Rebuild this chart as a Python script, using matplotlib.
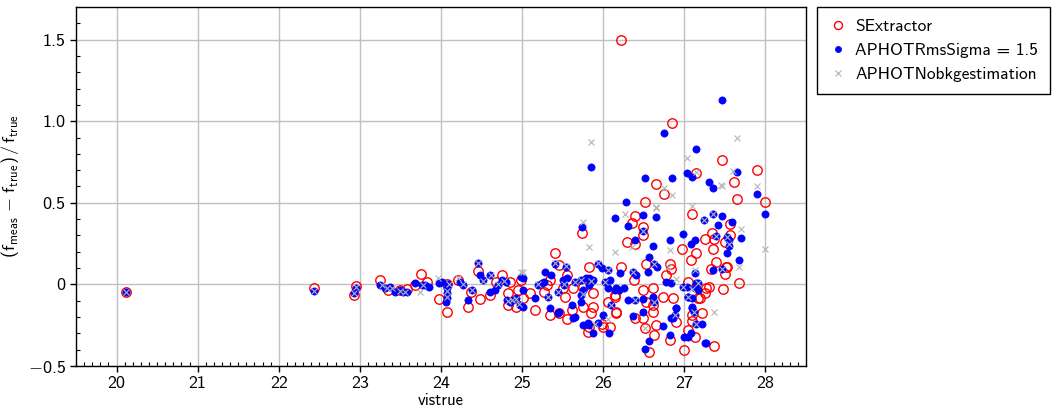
import matplotlib
matplotlib.use("Agg")
import matplotlib.pyplot as plt
from matplotlib.ticker import MultipleLocator, FixedLocator

plt.rcParams["font.family"] = ["cmss10", "DejaVu Sans"]
plt.rcParams["mathtext.fontset"] = "custom"
plt.rcParams["mathtext.rm"] = "cmss10"
plt.rcParams["mathtext.sf"] = "cmss10"
plt.rcParams["mathtext.it"] = "cmss10"
plt.rcParams["axes.unicode_minus"] = False

# SExtractor (red open circles)
sex_x = [20.12, 22.43, 22.93, 22.95,
         23.25, 23.35, 23.49, 23.58, 23.68, 23.75, 23.83, 23.97, 24.08, 24.08, 24.21, 24.37, 24.33,
         24.48, 24.45, 24.61, 24.75, 24.68, 24.83, 24.85, 24.95, 24.83, 24.93, 24.99,
         25.74, 25.41, 25.46, 25.55, 25.31, 25.27, 25.16, 25.34, 25.46, 25.53, 25.61, 25.63, 25.75,
         25.83, 25.87, 25.87, 25.85, 25.81, 25.98, 26.08, 26.06, 26.16, 26.14, 25.01, 25.10, 25.55,
         25.34, 25.50, 25.75, 25.83, 26.00,
         26.51, 26.39, 26.35, 26.49, 26.49, 26.29, 26.39, 27.10, 27.25, 26.97, 27.14, 27.08, 26.22,
         26.53, 26.82, 26.78, 26.38, 26.14, 26.49, 26.61, 26.74, 26.86, 27.05, 27.27, 27.17, 26.16,
         26.39, 26.49, 26.61, 26.53, 26.61, 26.65, 26.90, 26.51, 26.63, 26.82, 26.57, 27.10, 27.00,
         27.61, 27.65, 27.99, 27.56, 27.34, 27.37, 27.50, 27.56, 27.35, 27.39, 27.53, 27.50, 27.67,
         27.48, 27.30, 27.26, 27.22, 27.36,
         26.22, 26.85, 27.46, 27.90, 27.15, 26.65, 26.75,
         27.33, 27.51, 26.84, 27.19, 27.10, 27.05, 27.13]
sex_y = [-0.045, -0.025, -0.063, -0.012,
         0.026, -0.035, -0.035, -0.030, -0.005, 0.065, 0.016, -0.090, 0.005, -0.170, 0.026, -0.045, -0.137,
         -0.092, 0.080, -0.065, 0.057, 0.016, -0.055, 0.016, -0.035, -0.127, -0.137, 0.026,
         0.312, 0.190, 0.118, 0.057, -0.004, -0.045, -0.157, -0.188, -0.178, -0.076, -0.157, -0.025, -0.137,
         0.108, -0.055, -0.137, -0.178, -0.290, -0.240, -0.260, -0.106, -0.178, -0.076, -0.086, -0.055, -0.210,
         0.026, -0.025, -0.015, -0.260, -0.260,
         0.505, 0.418, 0.377, 0.352, 0.301, 0.260, 0.250, 0.434, 0.280, 0.220, 0.193, 0.148, 0.108,
         0.128, 0.128, 0.057, 0.026, -0.065, -0.035, -0.025, -0.076, -0.086, 0.016, -0.025, -0.086, -0.168,
         -0.208, -0.208, -0.168, -0.106, -0.127, -0.249, -0.229, -0.270, -0.310, -0.341, -0.413, -0.188, -0.402,
         0.628, 0.526, 0.505, 0.373, 0.312, 0.281, 0.260, 0.300, 0.214, 0.138, 0.104, 0.063, 0.006,
         -0.030, -0.018, -0.050, -0.178, -0.378,
         1.495, 0.990, 0.760, 0.704, 0.685, 0.618, 0.557,
         0.092, 0.108, 0.092, -0.086, -0.222, -0.280, -0.325]

# APHOT RmsSigma = 1.5 (blue dots)
rms_x = [20.12, 22.43, 22.93, 22.95,
         23.25, 23.31, 23.37, 23.43, 23.49, 23.53, 23.58, 23.68, 23.76, 23.80, 23.85, 23.97, 24.01,
         24.08, 24.08, 24.08, 24.06, 24.09, 24.23, 24.27, 24.38, 24.33, 24.45, 24.48, 24.52, 24.61,
         24.60, 24.66, 24.70, 24.75, 24.80, 24.81, 24.85, 24.89, 24.93, 24.97, 25.01, 24.99,
         25.74, 26.14, 25.40, 25.54, 25.28, 25.36, 25.01, 25.20, 25.24, 25.16, 25.32, 25.44, 25.50,
         25.52, 25.65, 25.72, 25.79, 25.85, 25.73, 25.73, 25.63, 25.34, 25.44, 25.61, 25.75, 25.83,
         25.93, 25.87, 26.07, 25.94, 25.98, 26.06, 26.02, 26.06, 26.14, 26.00, 26.10, 25.01,
         25.55, 25.82, 25.87, 25.75, 25.83, 25.46, 25.65, 25.81, 25.27, 26.08,
         26.28, 26.49, 26.65, 26.30, 26.49, 26.39, 26.61, 26.82, 26.98, 27.08, 27.13, 26.57, 26.62,
         26.66, 26.21, 26.37, 26.41, 26.55, 26.78, 26.84, 26.98, 27.03, 27.13, 27.15, 26.16, 26.20,
         26.26, 26.31, 26.39, 26.49, 26.61, 26.63, 27.05, 27.10, 27.12, 26.90, 26.88, 26.84, 26.37,
         26.49, 26.74, 26.82, 26.57, 26.51, 27.00, 27.05, 27.15, 27.27,
         27.31, 27.35, 27.90, 27.99, 27.35, 27.47, 27.59, 27.24, 27.41, 27.39, 27.52, 27.55, 27.55,
         27.70, 27.53, 27.67, 27.35, 27.47, 27.22, 27.26,
         27.46, 26.75, 27.14, 25.85, 26.51, 26.85, 27.03, 27.10, 27.65,
         27.13, 27.17, 27.17, 27.05, 27.09, 27.10, 26.90, 26.86, 27.08]
rms_y = [-0.045, -0.040, -0.050, -0.020,
         -0.004, -0.025, -0.015, -0.045, -0.035, -0.045, -0.045, 0.006, -0.004, -0.004, -0.015, 0.006, 0.016,
         -0.025, -0.055, -0.086, -0.107, 0.000, 0.016, -0.004, -0.035, -0.096, 0.132, 0.057, 0.026, 0.057,
         -0.045, -0.035, -0.004, 0.026, 0.016, -0.096, -0.106, -0.096, -0.086, -0.127, -0.035, 0.047,
         0.352, 0.404, 0.128, 0.108, 0.077, 0.057, 0.037, -0.004, 0.006, -0.086, -0.076, -0.045, 0.026,
         -0.004, 0.016, 0.026, 0.037, 0.016, -0.065, -0.106, -0.208, -0.147, -0.178, -0.127, -0.249, -0.249,
         -0.239, -0.300, -0.300, 0.128, 0.098, 0.087, 0.016, -0.025, -0.035, -0.188, -0.127, -0.137,
         0.037, 0.037, 0.026, -0.035, -0.004, -0.168, -0.198, -0.239, 0.016, 0.026,
         0.505, 0.424, 0.414, 0.357, 0.326, 0.275, 0.234, 0.275, 0.306, 0.250, 0.270, 0.165, 0.128,
         0.108, 0.071, 0.077, 0.057, 0.077, 0.016, 0.006, -0.015, -0.015, -0.025, 0.006, -0.025, -0.035,
         -0.025, -0.096, -0.096, -0.090, -0.076, -0.106, -0.076, -0.137, -0.168, -0.147, -0.188, -0.208, -0.194,
         -0.168, -0.255, -0.310, -0.345, -0.396, -0.320, -0.320, -0.245, -0.361,
         0.628, 0.593, 0.553, 0.434, 0.430, 0.418, 0.383, 0.393, 0.363, 0.296, 0.290, 0.270, 0.235,
         0.287, 0.193, 0.148, 0.088, 0.093, -0.243, -0.361,
         1.128, 0.930, 0.828, 0.718, 0.655, 0.655, 0.685, 0.660, 0.690,
         0.067, 0.006, -0.035, -0.080, -0.086, -0.147, -0.147, -0.208, -0.300]

# APHOT no bkg estimation (grey crosses)
nobkg_x = [20.12, 22.43, 22.93, 22.95,
           23.27, 23.33, 23.40, 23.50, 23.56, 23.74, 23.78, 23.96, 24.08, 24.08, 24.10, 24.21, 24.27,
           24.38, 24.45, 24.52, 24.62, 24.70, 24.78, 24.83, 24.88, 24.92, 24.96, 24.99,
           25.01, 25.20, 25.32, 25.40, 25.44, 25.52, 25.54, 25.65, 25.72, 25.75, 25.83, 25.85, 25.90,
           25.94, 26.02, 26.06, 26.14, 26.10, 26.06, 25.75,
           26.27, 26.35, 26.49, 26.65, 26.82, 27.13, 26.51, 26.37, 26.62, 26.80, 26.90, 26.98, 27.05,
           27.10, 27.17, 26.39, 26.63, 26.88, 27.12, 27.15,
           27.90, 27.99, 27.70, 27.68, 27.36, 27.45, 25.85, 27.65, 27.03, 27.60, 27.14, 27.46, 26.75,
           26.85, 26.65, 27.10, 27.35, 27.52, 27.55, 27.39, 27.47, 27.24]
nobkg_y = [-0.045, -0.040, -0.055, -0.015,
           -0.004, -0.025, -0.020, -0.040, -0.045, -0.045, -0.004, 0.040, -0.040, -0.080, 0.000, 0.040, 0.000,
           -0.035, 0.130, 0.020, 0.060, 0.000, 0.020, -0.100, -0.095, -0.090, -0.120, 0.077,
           0.077, 0.000, -0.075, 0.130, -0.045, 0.000, 0.110, 0.016, 0.026, -0.060, 0.230, 0.020, -0.240,
           0.130, 0.016, -0.210, 0.200, -0.127, 0.087, 0.380,
           0.434, 0.230, 0.326, 0.475, 0.210, 0.088, -0.270, 0.077, 0.128, 0.108, 0.032, -0.015, -0.080,
           -0.030, 0.006, -0.096, -0.106, -0.188, -0.168, -0.245,
           0.600, 0.220, 0.342, 0.108, -0.168, 0.610, 0.875, 0.900, 0.773, 0.693, 0.690, 0.603, 0.593,
           0.550, 0.470, 0.480, 0.430, 0.290, 0.250, 0.296, 0.093, 0.393]

fig = plt.figure(figsize=(10.52, 4.11), dpi=100)
ax = fig.add_axes([76 / 1052, 45 / 411, 730 / 1052, 359 / 411])

ax.plot(sex_x, sex_y, linestyle="none", marker="o", ms=6.8, mfc="none", mec="#ff0000",
        mew=1.0, label="SExtractor", zorder=3)
ax.plot(rms_x, rms_y, linestyle="none", marker="o", ms=5.2, mfc="#0000ff", mec="#0000ff",
        mew=0.5, label="APHOTRmsSigma = 1.5", zorder=4)
ax.plot(nobkg_x, nobkg_y, linestyle="none", marker="x", ms=5.0, color="#b4b4b4",
        mew=0.8, label="APHOTNobkgestimation", zorder=5)

ax.set_xlim(19.5, 28.5)
ax.set_ylim(-0.5, 1.7)
ax.xaxis.set_major_locator(MultipleLocator(1))
ax.xaxis.set_minor_locator(MultipleLocator(0.1))
ax.yaxis.set_major_locator(FixedLocator([-0.5, 0, 0.5, 1.0, 1.5]))
ax.set_yticklabels([r"$-0.5$", "0", "0.5", "1.0", "1.5"])
ax.yaxis.set_minor_locator(MultipleLocator(0.1))
ax.tick_params(which="major", direction="out", length=4, width=1, labelsize=13)
ax.tick_params(which="minor", direction="in", length=3, width=0.8)
ax.grid(True, which="major", color="#c0c0c0", linewidth=1.0, zorder=0)
ax.set_axisbelow(True)
for s in ax.spines.values():
    s.set_linewidth(1.0)

ax.set_xlabel("vistrue", fontsize=12, labelpad=1)
ax.set_ylabel(r"$(\mathrm{f_{meas}}\,-\,\mathrm{f_{true}})\,/\,\mathrm{f_{true}}$", fontsize=13, labelpad=5)

leg = fig.legend(loc="upper left", bbox_to_anchor=(817 / 1052, 1 - 7 / 411), fontsize=12.5,
                 frameon=True, fancybox=False, edgecolor="black", framealpha=1,
                 borderaxespad=0, handletextpad=0.5, borderpad=0.7, labelspacing=0.5,
                 handlelength=1.0, markerscale=0.85)
leg.get_frame().set_linewidth(1.0)

fig.savefig("out.png", dpi=100)
